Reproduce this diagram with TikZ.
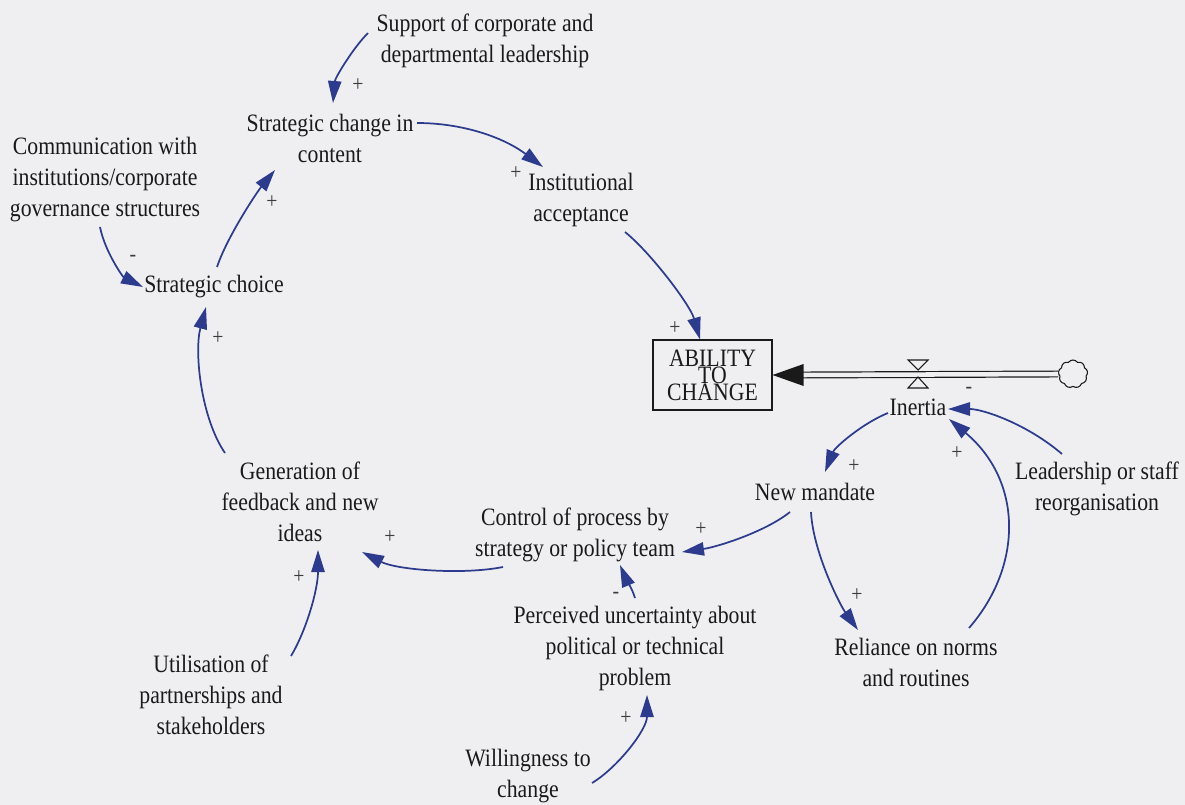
\documentclass[tikz,border=0pt]{standalone}
\usepackage{fontspec}
\setmainfont{Liberation Serif}[FakeStretch=0.87]
\usetikzlibrary{arrows.meta,calc,shapes.symbols}
\definecolor{bg}{HTML}{EFEFF1}
\definecolor{linkblue}{HTML}{2C3B8E}
\definecolor{ink}{HTML}{1A1A1A}

\begin{document}
\begin{tikzpicture}[x=0.75pt,y=-0.75pt,
  var/.style={align=center,inner sep=0pt,text=ink,
    font=\fontsize{18.75}{23.25}\selectfont},
  stock/.style={draw=ink,line width=0.8pt,align=center,inner sep=0pt,
    minimum width=89.25pt,minimum height=52.5pt,text=ink,
    font=\fontsize{18.75}{12.75}\selectfont},
  pol/.style={inner sep=0pt,text=ink!85,font=\fontsize{17}{19}\selectfont},
  link/.style={draw=linkblue,line width=1.3pt,
    -{Triangle[length=16.5pt,width=10pt]}},
  pipe/.style={draw=ink,line width=0.9pt,double=bg,double distance=3.4pt},
  valvepart/.style={draw=ink,fill=bg,line width=0.8pt,line join=miter},
  source/.style={cloud,draw=ink,fill=bg,line width=0.8pt,cloud puffs=9,
    cloud puff arc=110,aspect=1.05,minimum width=22pt,minimum height=21pt,
    inner sep=0pt}
]
% canvas
\fill[bg] (0,0) rectangle (1185,805);
\useasboundingbox (0,0) rectangle (1185,805);

% variables
\node[var] (sup)  at (485,41)  {Support of corporate and\\departmental leadership};
\node[var] (sch)  at (330,138) {Strategic change in\\content};
\node[var] (comm) at (105,180) {Communication with\\institutions/corporate\\governance structures};
\node[var] (scho) at (214,287) {Strategic choice};
\node[var] (inst) at (581,200) {Institutional\\acceptance};
\node[stock] (abil) at (712.5,375) {ABILITY\\TO\\CHANGE};
\node[var] (gen)  at (300,502) {Generation of\\feedback and new\\ideas};
\node[var] (ctrl) at (575,535) {Control of process by\\strategy or policy team};
\node[var] (nm)   at (815,492) {New mandate};
\node[var] (inr)  at (918,407) {Inertia};
\node[var] (lead) at (1097,489) {Leadership or staff\\reorganisation};
\node[var] (rel)  at (916,662) {Reliance on norms\\and routines};
\node[var] (perc) at (635,648) {Perceived uncertainty about\\political or technical\\problem};
\node[var] (will) at (528,776) {Willingness to\\change};
\node[var] (util) at (211,695) {Utilisation of\\partnerships and\\stakeholders};

% inflow into the stock: source cloud, pipe, valve
\node[source] (src) at (1073,374) {};
\coordinate (valve) at (918,374);
\draw[pipe] (src.west) -- ($(abil.east)+(30,0)$);
\fill[ink] (abil.east) -- ++(31,-11) -- ++(0,22) -- cycle;
\draw[valvepart] ($(valve)+(-10,-14)$) -- ($(valve)+(10,-14)$) -- ($(valve)+(0,-4)$) -- cycle;
\draw[valvepart] ($(valve)+(0,3)$) -- ($(valve)+(10,14)$) -- ($(valve)+(-10,14)$) -- cycle;

% causal links
\draw[link] ($(sup)+(-117,-8)$) .. controls +(-15,15) and +(2,-25) .. ($(sch)+(3,-35)$);
\draw[link] ($(sch)+(87,-15)$) .. controls +(45,0) and +(-40,-30) .. ($(inst)+(-38,-33)$);
\draw[link] ($(inst)+(44,32)$) .. controls +(25,20) and +(-10,-35) .. ($(abil.north)+(-12.5,0)$);
\draw[link] ($(comm)+(-5,47)$) .. controls +(5,25) and +(-20,-10) .. ($(scho.west)+(-1,0)$);
\draw[link] ($(scho)+(3,-20)$) .. controls +(10,-30) and +(-18,22) .. ($(sch)+(-55,32)$);
\draw[link] ($(gen)+(-75,-49)$) .. controls +(-24,-35) and +(-12,45) .. ($(scho)+(-8,20)$);
\draw[link] ($(ctrl)+(-72,32)$) .. controls +(-40,8) and +(35,18) .. ($(gen)+(62,50)$);
\draw[link] ($(nm)+(-25,20)$) .. controls +(-25,20) and +(35,-5) .. ($(ctrl)+(107,17)$);
\draw[link] ($(perc)+(0,-50)$) .. controls +(-3,-10) and +(5,12) .. ($(ctrl)+(45,30)$);
\draw[link] ($(will)+(64,7)$) .. controls +(25,-15) and +(0,35) .. ($(perc)+(12,47)$);
\draw[link] ($(util)+(80,-39)$) .. controls +(15,-25) and +(0,40) .. ($(gen)+(18,48)$);
\draw[link] ($(inr)+(-30,6)$) .. controls +(-25,10) and +(10,-25) .. ($(nm)+(10,-20)$);
\draw[link] ($(lead)+(-35,-35)$) .. controls +(-35,-30) and +(35,0) .. ($(inr)+(30,2)$);
\draw[link] ($(rel)+(53,-34)$) .. controls +(54,-62) and +(74,62) .. ($(inr)+(31,12)$);
\draw[link] ($(nm)+(-4,20)$) .. controls +(2,40) and +(-18,-25) .. ($(rel)+(-58,-32)$);

% link polarities
\node[pol] (p1)  at (358,85)  {+};
\node[pol] (p2)  at (516,173) {+};
\node[pol] (p3)  at (675,328) {+};
\node[pol] (p4)  at (133,258) {-};
\node[pol] (p5)  at (272,202) {+};
\node[pol] (p6)  at (218,338) {+};
\node[pol] (p7)  at (390,537) {+};
\node[pol] (p8)  at (701,529) {+};
\node[pol] (p9)  at (616,595) {-};
\node[pol] (p10) at (626,718) {+};
\node[pol] (p11) at (299,577) {+};
\node[pol] (p12) at (854,466) {+};
\node[pol] (p13) at (969,390) {-};
\node[pol] (p14) at (957,453) {+};
\node[pol] (p15) at (857,595) {+};
\end{tikzpicture}
\end{document}
